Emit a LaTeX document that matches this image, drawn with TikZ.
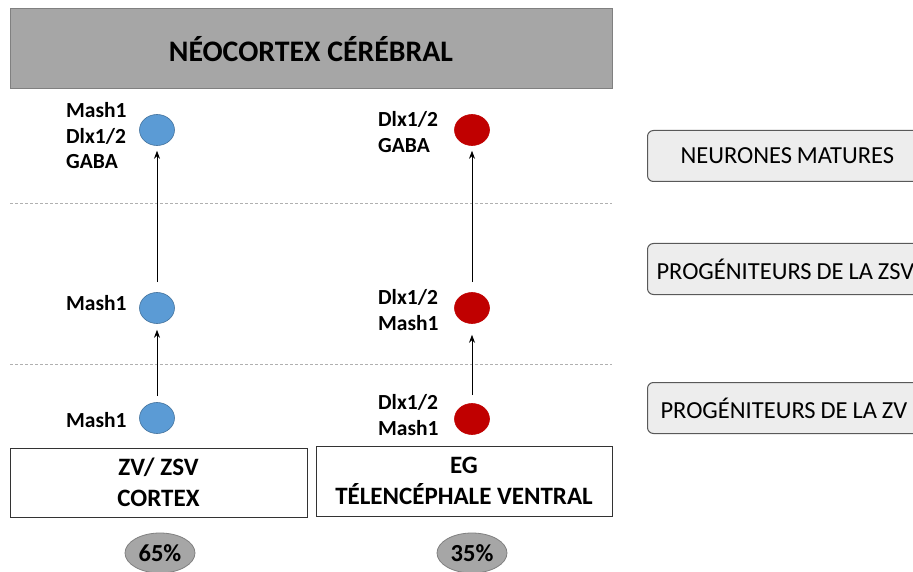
\documentclass[tikz,border=0pt]{standalone}
\usepackage{fontspec}
\setmainfont{Carlito}
\usetikzlibrary{shapes.geometric,arrows.meta}
\definecolor{titlegray}{HTML}{A6A6A6}
\definecolor{titleborder}{HTML}{808080}
\definecolor{cellblue}{HTML}{5B9BD5}
\definecolor{cellblueb}{HTML}{41719C}
\definecolor{cellred}{HTML}{C00000}
\definecolor{boxfill}{HTML}{EDEDED}
\definecolor{boxborder}{HTML}{595959}
\definecolor{dashgray}{HTML}{B0B0B0}
\newcommand{\tightwords}{\spaceskip=0.2em plus 0.05em minus 0.05em\relax}
\tikzset{
  cellnode/.style={ellipse, minimum width=35pt, minimum height=31pt, inner sep=0pt},
  bluecell/.style={cellnode, fill=cellblue, draw=cellblueb, line width=0.6pt},
  redcell/.style={cellnode, fill=cellred, draw=cellred, line width=0.6pt},
  genelabel/.style={anchor=west, inner sep=0pt, align=left, font=\fontsize{21.5}{25.5}\selectfont\bfseries},
  uparrow/.style={-{Stealth[length=8pt,width=6pt]}, line width=0.8pt, black},
  sepline/.style={dashgray, line width=1pt, dash pattern=on 3pt off 2pt},
  originbox/.style={draw=black!80, line width=0.8pt, align=center, font=\fontsize{25}{31}\selectfont\bfseries},
  pctnode/.style={ellipse, fill=titlegray, draw=titleborder, line width=0.8pt, minimum width=70pt, minimum height=40pt, inner sep=0pt, font=\fontsize{24.5}{28}\selectfont\bfseries},
  stagebox/.style={draw=boxborder, fill=boxfill, line width=1pt, rounded corners=6pt, anchor=west, minimum height=51pt, text width=300pt, align=left, font=\fontsize{24.5}{28}\selectfont},
}
\begin{document}
\begin{tikzpicture}[x=1pt,y=-1pt]
\useasboundingbox (0,0) rectangle (913,572);
\clip (0,0) rectangle (913,572);
\fill[white] (0,0) rectangle (913,572);

% title
\node[draw=titleborder, fill=titlegray, line width=1pt, minimum width=602pt, minimum height=80pt, inner sep=0pt,
      font=\fontsize{29.8}{34}\selectfont\bfseries] (title) at (311,49) {NÉOCORTEX CÉRÉBRAL};

% separators
\coordinate (s1a) at (10,204); \coordinate (s1b) at (612,204);
\coordinate (s2a) at (10,364); \coordinate (s2b) at (612,364);
\draw[sepline] (s1a) -- (s1b);
\draw[sepline] (s2a) -- (s2b);

% blue column
\node[bluecell] (b3) at (157,130) {};
\node[bluecell] (b2) at (157,308) {};
\node[bluecell] (b1) at (157,418) {};
\node[genelabel] (lb3) at (66,136) {Mash1\\Dlx1/2\\GABA};
\node[genelabel] (lb2) at (66,303) {Mash1};
\node[genelabel] (lb1) at (66,420) {Mash1};
\draw[uparrow, shorten <=10pt, shorten >=5pt] (b2) -- (b3);
\draw[uparrow, shorten <=6pt, shorten >=6pt] (b1) -- (b2);

% red column
\node[redcell] (r3) at (472,130) {};
\node[redcell] (r2) at (472,308) {};
\node[redcell] (r1) at (472,419) {};
\node[genelabel] (lr3) at (378,132) {Dlx1/2\\GABA};
\node[genelabel] (lr2) at (378,310) {Dlx1/2\\Mash1};
\node[genelabel] (lr1) at (378,415) {Dlx1/2\\Mash1};
\draw[uparrow, shorten <=10pt, shorten >=5pt] (r2) -- (r3);
\draw[uparrow, shorten <=8pt, shorten >=11pt] (r1) -- (r2);

% origin boxes
\node[originbox, minimum width=297pt, minimum height=69pt] (oleft) at (158.5,482.5) {ZV/ ZSV\\CORTEX};
\node[originbox, minimum width=296pt, minimum height=70pt] (oright) at (464,481) {EG\\TÉLENCÉPHALE VENTRAL};

% percentages
\node[pctnode] (p65) at (160,553) {65\%};
\node[pctnode] (p35) at (472,553) {35\%};

% stage boxes
\node[stagebox, inner xsep=33pt] (st3) at (647,156) {\tightwords NEURONES MATURES};
\node[stagebox, inner xsep=9pt] (st2) at (647,269) {\tightwords PROGÉNITEURS DE LA ZSV};
\node[stagebox, inner xsep=13pt] (st1) at (647,408) {\tightwords PROGÉNITEURS DE LA ZV};
\end{tikzpicture}
\end{document}
